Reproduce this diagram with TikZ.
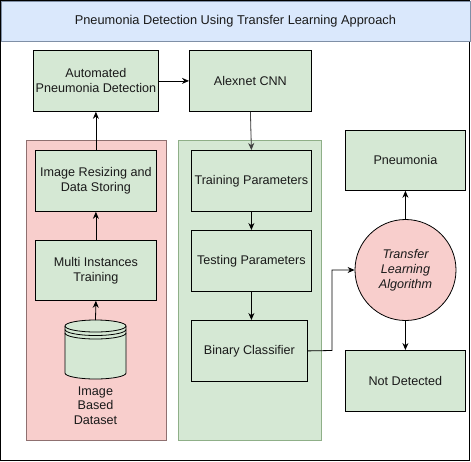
\documentclass[tikz,border=0pt]{standalone}
\usepackage{fontspec}
\setmainfont{Liberation Sans}
\usetikzlibrary{arrows.meta}
\definecolor{gfill}{HTML}{D5E8D4}
\definecolor{rfill}{HTML}{F8CECC}
\definecolor{bfill}{HTML}{DAE8FC}
\definecolor{bline}{HTML}{7F8FA6}
\definecolor{gline}{HTML}{8FAF88}
\definecolor{rline}{HTML}{8F7070}
\definecolor{txt}{HTML}{1A1A1A}
\tikzset{
  gbox/.style={draw=black, fill=gfill, line width=0.8pt, text=txt, align=center, font=\fontsize{12.6}{15}\selectfont, inner sep=0pt},
  arr/.style={-{Stealth[length=7pt,width=6pt]}, line width=0.8pt, draw=black},
}
\begin{document}
\begin{tikzpicture}[x=1pt,y=-1pt]
\useasboundingbox (0,0) rectangle (471,461);
% outer frame and title band
\draw[draw=black, line width=0.9pt, fill=white] (0.5,0.5) rectangle (469.5,460);
\node[draw=bline, fill=bfill, line width=0.8pt, minimum width=469pt, minimum height=40pt, inner sep=0pt, anchor=north west, font=\fontsize{12.8}{15}\selectfont, text=txt] (title) at (0.5,0.5) {Pneumonia Detection Using Transfer Learning Approach};
% containers
\node[draw=rline, fill=rfill, line width=0.8pt, minimum width=140pt, minimum height=300pt, inner sep=0pt, anchor=north west] (red) at (26,140) {};
\node[draw=gline, fill=gfill, line width=0.8pt, minimum width=143pt, minimum height=300pt, inner sep=0pt, anchor=north west] (grn) at (178,140) {};
% boxes
\node[gbox, minimum width=125pt, minimum height=61pt, anchor=north west] (auto) at (33,50) {Automated\\Pneumonia Detection};
\node[gbox, minimum width=122pt, minimum height=61pt, anchor=north west] (alex) at (189,50) {Alexnet CNN};
\node[gbox, minimum width=121pt, minimum height=61pt, anchor=north west] (resize) at (35,150) {Image Resizing and\\Data Storing};
\node[gbox, minimum width=121pt, minimum height=60pt, anchor=north west] (multi) at (35,240) {Multi Instances\\Training};
\node[gbox, minimum width=120pt, minimum height=61pt, anchor=north west] (train) at (191,150) {Training Parameters};
\node[gbox, minimum width=120pt, minimum height=61pt, anchor=north west] (test) at (191,230) {Testing Parameters};
\node[gbox, minimum width=116pt, minimum height=61pt, anchor=north west] (bin) at (191,320) {Binary Classifier};
\node[gbox, minimum width=120pt, minimum height=60pt, anchor=north west] (pneu) at (345,130) {Pneumonia};
\node[gbox, minimum width=120pt, minimum height=61pt, anchor=north west] (notd) at (345,350) {Not Detected};
\node[circle, draw=black, fill=rfill, line width=0.8pt, minimum size=101pt, inner sep=0pt, align=center, text=txt, font=\fontsize{12.6}{15}\selectfont\itshape] (tla) at (405.5,270) {Transfer\\Learning\\Algorithm};
% cylinder (datastore)
\coordinate (cyltop) at (95.5,320);
\draw[fill=gfill, line width=0.8pt] (65,326) -- (65,373) arc[start angle=180, end angle=0, x radius=30.5, y radius=6] -- (126,326) arc[start angle=0, end angle=-180, x radius=30.5, y radius=6] -- cycle;
\draw[line width=0.8pt] (65,326) arc[start angle=180, end angle=0, x radius=30.5, y radius=6];
\draw[line width=0.8pt] (65,329.5) arc[start angle=180, end angle=0, x radius=30.5, y radius=6];
\draw[line width=0.8pt] (65,333) arc[start angle=180, end angle=0, x radius=30.5, y radius=6];
\node[text=txt, align=center, font=\fontsize{12.6}{14.5}\selectfont, anchor=north] (dslabel) at (95.5,383) {Image\\Based\\Dataset};
% connectors
\draw[arr] (cyltop) -- (multi.south);
\draw[arr] (multi.north) -- (resize.south);
\draw[arr] (resize.north -| auto.south) -- (auto.south);
\draw[arr] (auto.east) -- (alex.west);
\draw[arr, draw=black!75, fill=black!75] (alex.south) -- (train.north);
\draw[arr] (train.south) -- (test.north);
\draw[arr] (test.south) -- (test.south |- bin.north);
\draw[arr] (bin.east) -- (332,350.5) |- (tla.west);
\draw[arr] (tla.north) -- (pneu.south);
\draw[arr] (tla.south) -- (notd.north);
\end{tikzpicture}
\end{document}
